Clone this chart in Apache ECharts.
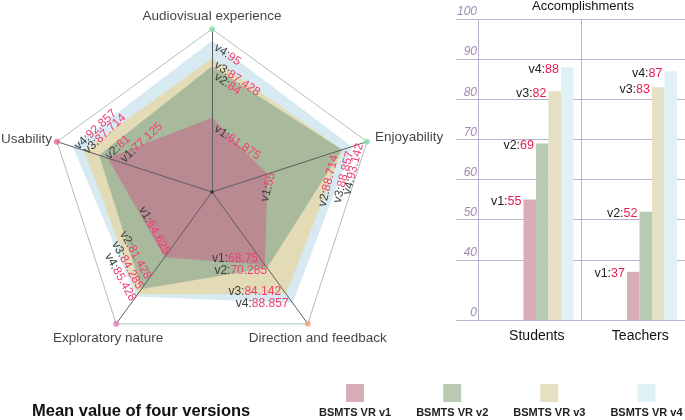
<!DOCTYPE html>
<html>
<head>
<meta charset="utf-8">
<script src="https://cdn.jsdelivr.net/npm/echarts@6/dist/echarts.min.js"></script>
<style>html,body{margin:0;padding:0;background:#fff}#main{width:685px;height:420px}</style>
</head>
<body>
<div id="main"></div>
<script>
// ---------- data ----------
const indicators = ['Audiovisual experience', 'Usability', 'Exploratory nature', 'Direction and feedback', 'Enjoyability'];
const versions = ['v1', 'v2', 'v3', 'v4'];
const seriesNames = ['BSMTS VR v1', 'BSMTS VR v2', 'BSMTS VR v3', 'BSMTS VR v4'];
const radarV1 = [61.875, 77.125, 64.625, 68.75, 55];
const radarV2 = [84, 81, 81.428, 70.285, 88.714];
const radarV3 = [87.428, 87.714, 84.285, 84.142, 88.857];
const radarV4 = [95, 92.857, 85.428, 88.857, 93.142];
const barCategories = ['Students', 'Teachers'];
const barV1 = [55, 37];
const barV2 = [69, 52];
const barV3 = [82, 83];
const barV4 = [88, 87];
const yTickValues = [25, 40, 50, 60, 70, 80, 90, 100];
const yTickLabels = ['0', '40', '50', '60', '70', '80', '90', '100'];

// ---------- style ----------
const radarColors = ['#b98a92', '#a9b99c', '#e3dbb6', '#d7eaf1'];
const barColors = ['#d8adb8', '#b8c9b4', '#e5e0c4', '#e0f1f6'];
const dotColors = ['#8ee0ad', '#f2608e', '#e07fc0', '#f5a08a', '#86e2a6'];
const gridColor = '#bcb1cf';
const axisLabelCfg = [
  {rotate: -34, align: 'left', verticalAlign: 'bottom'},
  {rotate: 43, align: 'left', verticalAlign: 'middle'},
  {rotate: -61, align: 'right', verticalAlign: 'middle'},
  {rotate: 0, align: 'right', verticalAlign: 'middle'},
  {rotate: 76, align: 'right', verticalAlign: 'middle'}
];
const labelOffsets = [
  [[8.4, 12.4], [9, 12], [-2, -4], [-7, -6], [2, 4]],
  [[8, 12], [4.5, 7], [-6, -11], [0, 3], [-7, -5.5]],
  [[6, 9], [0, 2], [-4, -5], [-5, -2], [0, 8]],
  [[6, 9], [2, 3], [2, 4.5], [-4, 1], [5, 7]]
];
const namePos = [
  {position: 'top', distance: 3, offset: [0, 0]},
  {position: 'left', distance: 2, offset: [0, -2]},
  {position: 'bottom', distance: 4, offset: [-8, 0]},
  {position: 'bottom', distance: 4, offset: [10, 0]},
  {position: 'right', distance: 5, offset: [0, -4]}
];

const radarValues = [radarV1, radarV2, radarV3, radarV4];
const barValues = [barV1, barV2, barV3, barV4];
const richRadar = {
  p: {color: '#3c3c3c', fontSize: 12},
  n: {color: '#ef3f72', fontSize: 12}
};

const series = [];
[3, 2, 1, 0].forEach(i => {
  series.push({
    type: 'radar', name: seriesNames[i], symbol: 'none', silent: true, z: 2,
    lineStyle: {width: 0},
    areaStyle: {color: radarColors[i], opacity: 1},
    data: [{name: seriesNames[i], value: radarValues[i]}]
  });
});
[0, 1, 2, 3].forEach(i => {
  series.push({
    type: 'radar', name: 'lbl' + i, symbol: 'circle', symbolSize: 0.1, silent: true, z: 4,
    lineStyle: {opacity: 0, width: 0}, areaStyle: {opacity: 0},
    itemStyle: {color: 'rgba(0,0,0,0)'},
    data: indicators.map((_, k) => ({
      name: '',
      value: radarValues[i],
      label: {
        show: true, position: 'inside',
        rotate: axisLabelCfg[k].rotate,
        align: axisLabelCfg[k].align,
        verticalAlign: axisLabelCfg[k].verticalAlign,
        offset: labelOffsets[i][k],
        formatter: p => {
          const hit = p.dimensionIndex != null ? p.dimensionIndex === k : p.value === radarValues[i][k];
          return hit ? '{p|' + versions[i] + ':}{n|' + radarValues[i][k] + '}' : '';
        },
        rich: richRadar
      }
    }))
  });
});

// vertex dots + axis names
series.push({
  type: 'scatter', coordinateSystem: 'polar', polarIndex: 0, z: 5, silent: true,
  symbolSize: 6,
  data: indicators.map((n, k) => ({
    value: [1, k],
    itemStyle: {color: dotColors[k]},
    label: {
      show: true, formatter: n, color: '#111', fontSize: 13.5,
      position: namePos[k].position, distance: namePos[k].distance, offset: namePos[k].offset
    }
  }))
});
series.push({
  type: 'scatter', coordinateSystem: 'polar', polarIndex: 0, z: 5, silent: true,
  symbolSize: 4, itemStyle: {color: '#333'},
  data: [[0, 0]]
});

// bars: three empty spacer series keep the groups to the right of each band
for (let s = 0; s < 3; s++) {
  series.push({type: 'bar', name: 'spacer' + s, data: ['-', '-'], barWidth: 12.5, barGap: '0%', silent: true});
}
[0, 1, 2, 3].forEach(i => {
  series.push({
    type: 'bar', name: seriesNames[i], data: barValues[i],
    barWidth: 12.5, barGap: '0%', silent: true,
    itemStyle: {color: barColors[i]},
    label: {
      show: true, position: [0, 0], align: 'right', verticalAlign: 'middle', offset: [-2, 2],
      formatter: p => '{p|' + versions[i] + ':}{n|' + p.value + '}',
      rich: {p: {color: '#222', fontSize: 12.5}, n: {color: '#e8194c', fontSize: 12.5}}
    }
  });
});

const legendRich = {t: {fontSize: 11, fontWeight: 'bold', color: '#222', lineHeight: 22, align: 'center'}};
seriesNames.forEach((n, i) => {
  legendRich['s' + i] = {width: 18, height: 18, backgroundColor: barColors[i], align: 'center'};
});

const option = {
  animation: false,
  textStyle: {fontFamily: 'Liberation Sans, Arial, sans-serif'},
  title: [
    {text: 'Accomplishments', left: 583, top: 0, padding: 0, textAlign: 'center',
     textStyle: {fontSize: 13, fontWeight: 'normal', color: '#111'}},
    {text: 'Mean value of four versions', left: 32, top: 403, padding: 0,
     textStyle: {fontSize: 16.5, fontWeight: 'bold', color: '#111'}}
  ],
  legend: {
    data: seriesNames, left: 314, top: 384, width: 371, padding: 0,
    itemGap: 20, itemWidth: 0, itemHeight: 0,
    selectedMode: false,
    formatter: n => '{s' + seriesNames.indexOf(n) + '|}\n{t|' + n + '}',
    textStyle: {rich: legendRich}
  },
  radar: {
    center: [212, 192], radius: 163, startAngle: 90, splitNumber: 1, z: 3,
    indicator: indicators.map(n => ({name: n, min: 30, max: 100})),
    axisName: {show: false},
    axisLine: {lineStyle: {color: '#5e5e5e', width: 1}},
    splitLine: {lineStyle: {color: '#a9c4b1', width: 1}},
    splitArea: {show: false},
    axisTick: {show: false},
    axisLabel: {show: false}
  },
  polar: {center: [212, 192], radius: 163},
  angleAxis: {type: 'category', data: indicators, startAngle: 90, clockwise: false, boundaryGap: false, show: false},
  radiusAxis: {type: 'value', min: 0, max: 1, show: false},
  grid: {left: 478, right: 0, top: 19, bottom: 100},
  xAxis: {
    type: 'category', data: barCategories,
    axisLine: {lineStyle: {color: gridColor}},
    axisTick: {show: false},
    axisLabel: {color: '#111', fontSize: 14, margin: 9, padding: [0, 0, 0, 14]},
    splitLine: {show: true, lineStyle: {color: gridColor}}
  },
  yAxis: {
    type: 'value', min: 25, max: 100,
    axisLine: {show: false},
    axisTick: {show: true, length: 22, lineStyle: {color: gridColor}, customValues: yTickValues},
    axisLabel: {
      customValues: yTickValues,
      formatter: v => yTickLabels[yTickValues.indexOf(v)],
      color: '#9b8cb0', fontStyle: 'italic', fontSize: 12, margin: 1,
      verticalAlign: 'bottom', padding: [0, 0, 1, 0]
    },
    splitLine: {lineStyle: {color: gridColor}}
  },
  series: series
};

const chart = echarts.init(document.getElementById('main'), null, {renderer: 'canvas'});
chart.setOption(option);
</script>
</body>
</html>
